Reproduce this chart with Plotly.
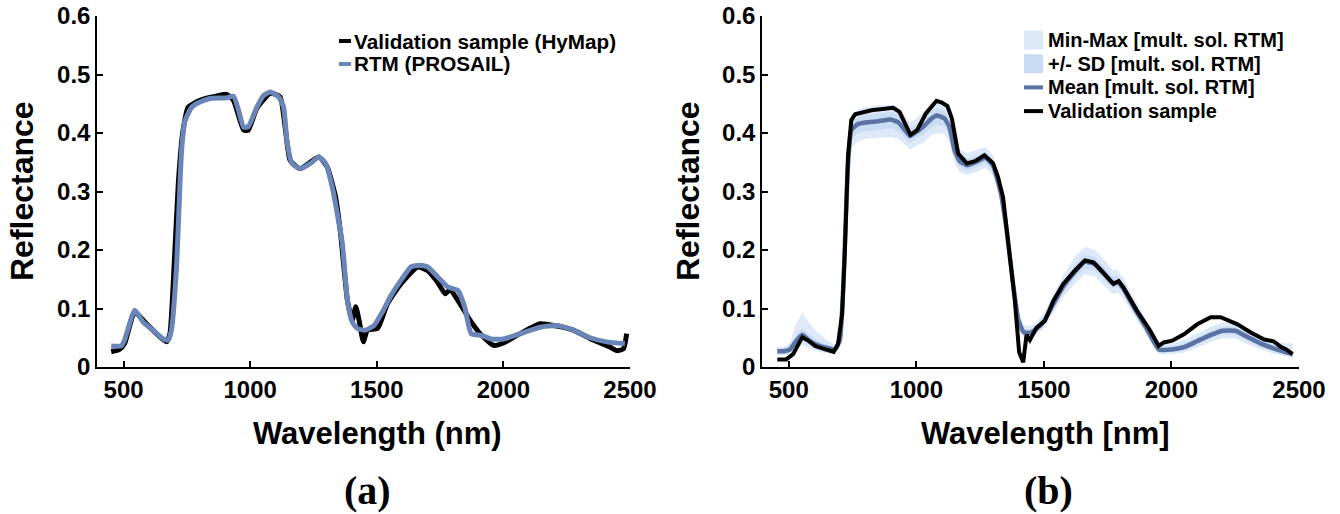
import plotly.graph_objects as go
from plotly.subplots import make_subplots

# ---- panel (a): validation sample vs PROSAIL ----
wl_hymap = [451, 484, 504, 544, 590, 630, 669, 683, 696, 716, 733, 755, 802, 855, 907, 934,
            974, 993, 1026, 1079, 1118, 1138, 1158, 1198, 1271, 1304, 1337, 1357, 1384, 1403,
            1417, 1430, 1447, 1463, 1503, 1542, 1595, 1661, 1700, 1740, 1770, 1789, 1829, 1868,
            1908, 1961, 2000, 2066, 2145, 2211, 2276, 2355, 2421, 2447, 2474, 2487]
refl_hymap = [0.026, 0.030, 0.040, 0.094, 0.074, 0.057, 0.043, 0.057, 0.142, 0.313, 0.399, 0.444,
              0.456, 0.462, 0.466, 0.456, 0.405, 0.405, 0.442, 0.468, 0.462, 0.410, 0.353, 0.339,
              0.359, 0.342, 0.291, 0.228, 0.114, 0.080, 0.103, 0.080, 0.043, 0.063, 0.066, 0.108,
              0.142, 0.171, 0.165, 0.145, 0.125, 0.132, 0.108, 0.080, 0.057, 0.037, 0.041, 0.057,
              0.074, 0.070, 0.063, 0.046, 0.034, 0.028, 0.031, 0.057]

wl_prosail = [451, 491, 504, 544, 577, 616, 656, 676, 689, 709, 729, 742, 769, 802, 841, 907, 934,
              954, 974, 993, 1026, 1053, 1079, 1112, 1132, 1145, 1165, 1198, 1238, 1271, 1298, 1324,
              1344, 1364, 1384, 1403, 1423, 1456, 1489, 1522, 1556, 1595, 1635, 1668, 1701, 1741,
              1780, 1820, 1847, 1873, 1913, 1952, 2000, 2066, 2145, 2211, 2276, 2342, 2408, 2480]
refl_prosail = [0.036, 0.036, 0.046, 0.097, 0.077, 0.063, 0.048, 0.046, 0.063, 0.171, 0.370, 0.420,
                0.444, 0.453, 0.459, 0.460, 0.463, 0.439, 0.410, 0.411, 0.444, 0.464, 0.470, 0.462,
                0.444, 0.387, 0.348, 0.339, 0.348, 0.359, 0.348, 0.308, 0.262, 0.211, 0.114, 0.077,
                0.066, 0.063, 0.071, 0.094, 0.122, 0.148, 0.171, 0.174, 0.171, 0.154, 0.137, 0.131,
                0.103, 0.057, 0.054, 0.048, 0.048, 0.057, 0.068, 0.071, 0.063, 0.050, 0.043, 0.040]

# ---- panel (b): multiple solutions RTM ----
wl_rtm = [455, 480, 505, 530, 553, 580, 610, 645, 680, 700, 715, 730, 745, 770, 800, 850, 900, 930,
          955, 975, 1000, 1030, 1060, 1080, 1110, 1130, 1150, 1170, 1200, 1240, 1270, 1300, 1330,
          1355, 1380, 1400, 1420, 1445, 1470, 1500, 1540, 1580, 1620, 1660, 1700, 1740, 1770, 1790,
          1810, 1850, 1900, 1950, 2000, 2050, 2100, 2150, 2200, 2250, 2300, 2350, 2400, 2450, 2475]
rtm_mean = [0.027, 0.027, 0.030, 0.045, 0.055, 0.045, 0.038, 0.033, 0.030, 0.045, 0.150, 0.330,
            0.405, 0.415, 0.418, 0.420, 0.423, 0.418, 0.405, 0.395, 0.402, 0.412, 0.425, 0.430,
            0.425, 0.410, 0.370, 0.352, 0.345, 0.352, 0.358, 0.345, 0.300, 0.230, 0.140, 0.080,
            0.060, 0.058, 0.065, 0.078, 0.110, 0.140, 0.162, 0.180, 0.176, 0.158, 0.143, 0.145,
            0.135, 0.104, 0.068, 0.030, 0.030, 0.034, 0.044, 0.054, 0.062, 0.062, 0.051, 0.040,
            0.032, 0.025, 0.022]
rtm_sd_lo = [0.023, 0.023, 0.025, 0.038, 0.046, 0.038, 0.032, 0.028, 0.026, 0.038, 0.135, 0.310,
             0.390, 0.400, 0.403, 0.405, 0.408, 0.403, 0.392, 0.383, 0.390, 0.398, 0.410, 0.415,
             0.411, 0.397, 0.358, 0.342, 0.335, 0.342, 0.348, 0.336, 0.292, 0.222, 0.133, 0.074,
             0.055, 0.053, 0.060, 0.072, 0.102, 0.131, 0.152, 0.168, 0.165, 0.148, 0.134, 0.136,
             0.127, 0.097, 0.062, 0.026, 0.026, 0.029, 0.038, 0.048, 0.055, 0.055, 0.045, 0.035,
             0.027, 0.021, 0.018]
rtm_sd_hi = [0.031, 0.031, 0.036, 0.055, 0.066, 0.055, 0.046, 0.039, 0.034, 0.052, 0.165, 0.345,
             0.418, 0.428, 0.431, 0.433, 0.436, 0.431, 0.418, 0.407, 0.414, 0.425, 0.438, 0.443,
             0.438, 0.423, 0.383, 0.362, 0.356, 0.362, 0.368, 0.355, 0.308, 0.238, 0.148, 0.087,
             0.066, 0.064, 0.071, 0.085, 0.118, 0.150, 0.174, 0.192, 0.188, 0.169, 0.154, 0.155,
             0.144, 0.112, 0.075, 0.036, 0.035, 0.040, 0.050, 0.061, 0.069, 0.069, 0.058, 0.046,
             0.038, 0.031, 0.028]
rtm_min = [0.020, 0.020, 0.021, 0.030, 0.038, 0.032, 0.027, 0.024, 0.023, 0.032, 0.120, 0.290,
           0.375, 0.385, 0.390, 0.392, 0.393, 0.390, 0.380, 0.372, 0.378, 0.385, 0.396, 0.400,
           0.398, 0.385, 0.348, 0.333, 0.328, 0.334, 0.340, 0.328, 0.285, 0.215, 0.126, 0.068,
           0.050, 0.048, 0.055, 0.066, 0.095, 0.122, 0.142, 0.158, 0.155, 0.138, 0.125, 0.127,
           0.119, 0.090, 0.056, 0.022, 0.022, 0.025, 0.033, 0.042, 0.049, 0.049, 0.039, 0.030,
           0.023, 0.017, 0.015]
rtm_max = [0.034, 0.034, 0.042, 0.075, 0.093, 0.075, 0.060, 0.048, 0.038, 0.058, 0.180, 0.360,
           0.430, 0.440, 0.444, 0.447, 0.448, 0.444, 0.430, 0.418, 0.425, 0.438, 0.450, 0.455,
           0.450, 0.435, 0.395, 0.372, 0.366, 0.372, 0.376, 0.363, 0.316, 0.246, 0.156, 0.094,
           0.072, 0.070, 0.077, 0.092, 0.127, 0.160, 0.188, 0.205, 0.200, 0.182, 0.166, 0.165,
           0.153, 0.120, 0.082, 0.042, 0.040, 0.046, 0.057, 0.068, 0.076, 0.076, 0.065, 0.053,
           0.045, 0.040, 0.040]

wl_val = [455, 490, 517, 537, 553, 577, 603, 643, 676, 693, 709, 720, 732, 745, 760, 824, 880, 909,
          934, 955, 977, 1003, 1037, 1079, 1100, 1122, 1139, 1164, 1198, 1230, 1267, 1301, 1320,
          1340, 1360, 1386, 1403, 1419, 1432, 1445, 1471, 1504, 1537, 1576, 1622, 1661, 1694, 1734,
          1773, 1793, 1812, 1865, 1917, 1950, 1970, 2003, 2049, 2101, 2154, 2193, 2259, 2311, 2364,
          2400, 2430, 2450, 2475]
refl_val = [0.013, 0.013, 0.022, 0.039, 0.051, 0.045, 0.036, 0.030, 0.026, 0.039, 0.090, 0.200,
            0.360, 0.422, 0.432, 0.439, 0.442, 0.443, 0.436, 0.415, 0.397, 0.405, 0.433, 0.455,
            0.452, 0.446, 0.425, 0.365, 0.348, 0.352, 0.362, 0.348, 0.325, 0.290, 0.211, 0.114,
            0.025, 0.008, 0.055, 0.046, 0.067, 0.079, 0.113, 0.142, 0.165, 0.182, 0.179, 0.159,
            0.142, 0.147, 0.136, 0.096, 0.062, 0.036, 0.042, 0.045, 0.056, 0.073, 0.085, 0.085,
            0.073, 0.059, 0.047, 0.044, 0.034, 0.030, 0.022]

x_ticks = [500, 1000, 1500, 2000, 2500]
y_ticks = [0, 0.1, 0.2, 0.3, 0.4, 0.5, 0.6]
y_labels = ["0", "0.1", "0.2", "0.3", "0.4", "0.5", "0.6"]

BLACK = "#000000"
BLUE_A = "#6a86b8"
BLUE_MEAN = "#5b72a4"
MINMAX = "#dde9f8"
SD = "#c9dcf3"
SANS = "Arial, Liberation Sans, sans-serif"
SERIF = "Times New Roman, Liberation Serif, serif"

W, H = 1340, 514
ML, MR, MT, MB = 97, 41, 16, 147
PW, PH = W - ML - MR, H - MT - MB


def px(x):
    return (x - ML) / PW


def py(y):
    return (H - MB - y) / PH


fig = make_subplots(rows=1, cols=2)

fig.add_trace(go.Scatter(x=wl_hymap, y=refl_hymap, mode="lines",
                         line=dict(color=BLACK, width=5, shape="spline", smoothing=0.5)),
              row=1, col=1)
fig.add_trace(go.Scatter(x=wl_prosail, y=refl_prosail, mode="lines",
                         line=dict(color=BLUE_A, width=5, shape="spline", smoothing=0.5)),
              row=1, col=1)

fig.add_trace(go.Scatter(x=wl_rtm, y=rtm_min, mode="lines", line=dict(width=0)), row=1, col=2)
fig.add_trace(go.Scatter(x=wl_rtm, y=rtm_max, mode="lines", line=dict(width=0),
                         fill="tonexty", fillcolor=MINMAX), row=1, col=2)
fig.add_trace(go.Scatter(x=wl_rtm, y=rtm_sd_lo, mode="lines", line=dict(width=0)), row=1, col=2)
fig.add_trace(go.Scatter(x=wl_rtm, y=rtm_sd_hi, mode="lines", line=dict(width=0),
                         fill="tonexty", fillcolor=SD), row=1, col=2)
fig.add_trace(go.Scatter(x=wl_rtm, y=rtm_mean, mode="lines",
                         line=dict(color=BLUE_MEAN, width=4.5, shape="spline", smoothing=0.4)),
              row=1, col=2)
fig.add_trace(go.Scatter(x=wl_val, y=refl_val, mode="lines",
                         line=dict(color=BLACK, width=4)), row=1, col=2)

axis_common = dict(showline=True, linecolor=BLACK, linewidth=1.5, mirror=False,
                   ticks="inside", ticklen=6, tickwidth=1.5, tickcolor=BLACK,
                   showgrid=False, zeroline=False, automargin=False,
                   tickfont=dict(family=SANS, size=24, color=BLACK, weight="bold"))

fig.update_xaxes(range=[395, 2500], tickvals=x_ticks, **axis_common)
fig.update_yaxes(range=[0, 0.6], tickvals=y_ticks, ticktext=y_labels, **axis_common)
fig.update_layout(
    xaxis=dict(domain=[0, px(630)]),
    xaxis2=dict(domain=[px(762), 1]),
)

annots = []
for xc, label in [(22, "Reflectance"), (688, "Reflectance")]:
    annots.append(dict(x=px(xc), y=py(191), text=label, textangle=-90, showarrow=False,
                       xref="paper", yref="paper", xanchor="center", yanchor="middle",
                       font=dict(family=SANS, size=32, color=BLACK, weight="bold")))
for xc, label in [(377, "Wavelength (nm)"), (1045, "Wavelength [nm]")]:
    annots.append(dict(x=px(xc), y=py(433), text=label, showarrow=False,
                       xref="paper", yref="paper", xanchor="center", yanchor="middle",
                       font=dict(family=SANS, size=31, color=BLACK, weight="bold")))
for xc, label in [(367, "(a)"), (1048, "(b)")]:
    annots.append(dict(x=px(xc), y=py(490), text=label, showarrow=False,
                       xref="paper", yref="paper", xanchor="center", yanchor="middle",
                       font=dict(family=SERIF, size=40, color=BLACK, weight="bold")))

shapes = []
# legend of panel (a)
leg_a = [("Validation sample (HyMap)", BLACK), ("RTM (PROSAIL)", BLUE_A)]
for i, (label, col) in enumerate(leg_a):
    yc = 41 + i * 23
    shapes.append(dict(type="line", xref="paper", yref="paper", x0=px(339), x1=px(351),
                       y0=py(yc), y1=py(yc), line=dict(color=col, width=4)))
    annots.append(dict(x=px(352), y=py(yc), text=label, showarrow=False,
                       xref="paper", yref="paper", xanchor="left", yanchor="middle",
                       font=dict(family=SANS, size=20.7, color=BLACK, weight="bold")))

# legend of panel (b)
leg_b = [("Min-Max [mult. sol. RTM]", "box", MINMAX),
         ("+/- SD [mult. sol. RTM]", "box", SD),
         ("Mean [mult. sol. RTM]", "line", BLUE_MEAN),
         ("Validation sample", "line", BLACK)]
for i, (label, kind, col) in enumerate(leg_b):
    yc = 40 + i * 23.7
    if kind == "box":
        shapes.append(dict(type="rect", xref="paper", yref="paper", x0=px(1024), x1=px(1043),
                           y0=py(yc - 9.5), y1=py(yc + 9.5), fillcolor=col, line=dict(width=0)))
    else:
        shapes.append(dict(type="line", xref="paper", yref="paper", x0=px(1024), x1=px(1043),
                           y0=py(yc), y1=py(yc), line=dict(color=col, width=4)))
    annots.append(dict(x=px(1046), y=py(yc), text=label, showarrow=False,
                       xref="paper", yref="paper", xanchor="left", yanchor="middle",
                       font=dict(family=SANS, size=20, color=BLACK, weight="bold")))

fig.update_layout(
    width=W, height=H,
    margin=dict(l=ML, r=MR, t=MT, b=MB),
    paper_bgcolor="white", plot_bgcolor="white",
    showlegend=False,
    annotations=annots,
    shapes=shapes,
)

fig.write_html("out.html", config={"displayModeBar": False})

# drop the browser's default body margin so the figure sits at the page origin
with open("out.html", encoding="utf-8") as f:
    page = f.read()
page = page.replace("<body>", '<body style="margin:0">', 1)
with open("out.html", "w", encoding="utf-8") as f:
    f.write(page)
